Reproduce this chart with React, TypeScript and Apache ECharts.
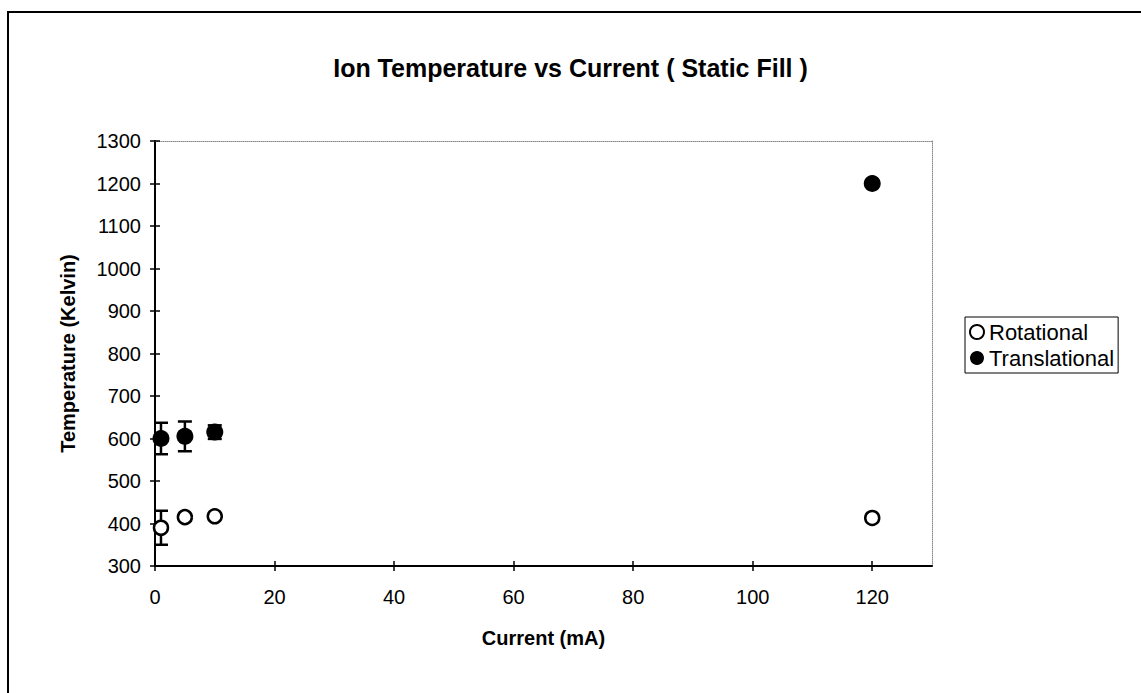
import React, { useEffect, useRef } from "react";
import * as echarts from "echarts";

const titleText = "Ion Temperature vs Current ( Static Fill )";
const xName = "Current (mA)";
const yName = "Temperature (Kelvin)";
const xTicks = [0, 20, 40, 60, 80, 100, 120];

const rotCurrent = [1, 5, 10, 120];
const rotTemp = [390, 415, 417, 413];
const rotErr = [40, 0, 0, 0];

const transCurrent = [1, 5, 10, 120];
const transTemp = [600, 605, 615, 1200];
const transErr = [37, 35, 16, 0];

const FONT = "'Liberation Sans', Arial, sans-serif";

function errorBars(name: string, xs: number[], ys: number[], es: number[]) {
  return {
    type: "custom",
    name: name + "-err",
    z: 2,
    silent: true,
    data: xs.map((x, i) => [x, ys[i], es[i]]),
    encode: { x: 0, y: 1 },
    renderItem: (params: any, api: any) => {
      const x = api.value(0);
      const y = api.value(1);
      const e = api.value(2);
      if (!e) return null;
      const top = api.coord([x, y + e]);
      const bot = api.coord([x, y - e]);
      const w = 7;
      const st = { stroke: "#000", lineWidth: 2.5 };
      return {
        type: "group",
        children: [
          { type: "line", shape: { x1: top[0], y1: top[1], x2: bot[0], y2: bot[1] }, style: st },
          { type: "line", shape: { x1: top[0] - w, y1: top[1], x2: top[0] + w, y2: top[1] }, style: st },
          { type: "line", shape: { x1: bot[0] - w, y1: bot[1], x2: bot[0] + w, y2: bot[1] }, style: st },
        ],
      };
    },
  };
}

export default function App() {
  const ref = useRef<HTMLDivElement>(null);
  useEffect(() => {
    if (!ref.current) return;
    const chart = echarts.init(ref.current, null, { renderer: "svg" });
    const axisCommonX = { type: "value", min: 0, max: 130, interval: 20, gridIndex: 0 };
    const axisCommonY = { type: "value", min: 300, max: 1300, interval: 100, gridIndex: 0 };
    chart.setOption({
      animation: false,
      backgroundColor: "#fff",
      textStyle: { fontFamily: FONT },
      title: {
        text: titleText,
        left: "center",
        top: 50,
        textStyle: { fontFamily: FONT, fontSize: 25, fontWeight: "bold", color: "#000" },
      },
      legend: {
        orient: "vertical",
        left: 965,
        top: 317,
        data: ["Rotational", "Translational"],
        borderColor: "#000",
        borderWidth: 1,
        padding: [4, 4, 4, 4],
        itemGap: 4,
        itemWidth: 14,
        itemHeight: 14,
        icon: "circle",
        textStyle: { fontFamily: FONT, fontSize: 22, color: "#000" },
      },
      grid: { left: 155, top: 141, width: 777, height: 425 },
      xAxis: [
        {
          ...axisCommonX,
          position: "bottom",
          name: xName,
          nameLocation: "middle",
          nameGap: 62,
          nameTextStyle: { fontFamily: FONT, fontSize: 20, fontWeight: "bold", color: "#000" },
          axisLine: { show: true, onZero: false, lineStyle: { color: "#000", width: 2 } },
          axisTick: { show: true, inside: false, length: 5, lineStyle: { color: "#000", width: 1.5 }, customValues: xTicks },
          axisLabel: { show: true, margin: 21, fontFamily: FONT, fontSize: 20, color: "#000", customValues: xTicks },
          splitLine: { show: false },
        },
        {
          ...axisCommonX,
          position: "bottom",
          axisLine: { show: false, onZero: false },
          axisTick: { show: true, inside: true, length: 5, lineStyle: { color: "#000", width: 1.5 }, customValues: xTicks },
          axisLabel: { show: false },
          splitLine: { show: false },
        },
        {
          ...axisCommonX,
          position: "top",
          axisLine: { show: true, onZero: false, lineStyle: { color: "#888", width: 1, type: "dotted" } },
          axisTick: { show: false },
          axisLabel: { show: false },
          splitLine: { show: false },
        },
      ],
      yAxis: [
        {
          ...axisCommonY,
          position: "left",
          name: yName,
          nameLocation: "middle",
          nameGap: 77,
          nameTextStyle: { fontFamily: FONT, fontSize: 20, fontWeight: "bold", color: "#000" },
          axisLine: { show: true, onZero: false, lineStyle: { color: "#000", width: 2 } },
          axisTick: { show: true, inside: false, length: 5, lineStyle: { color: "#000", width: 1.5 } },
          axisLabel: {
            show: true,
            margin: 14,
            fontFamily: FONT,
            fontSize: 20,
            color: "#000",
            formatter: (v: number) => String(v),
          },
          splitLine: { show: false },
        },
        {
          ...axisCommonY,
          position: "left",
          axisLine: { show: false, onZero: false },
          axisTick: { show: true, inside: true, length: 5, lineStyle: { color: "#000", width: 1.5 } },
          axisLabel: { show: false },
          splitLine: { show: false },
        },
        {
          ...axisCommonY,
          position: "right",
          axisLine: { show: true, onZero: false, lineStyle: { color: "#888", width: 1, type: "dotted" } },
          axisTick: { show: false },
          axisLabel: { show: false },
          splitLine: { show: false },
        },
      ],
      graphic: [
        {
          type: "rect",
          shape: { x: 8, y: 12, width: 1400, height: 1000 },
          style: { fill: "none", stroke: "#000", lineWidth: 2 },
          silent: true,
        },
      ],
      series: [
        errorBars("Rotational", rotCurrent, rotTemp, rotErr),
        errorBars("Translational", transCurrent, transTemp, transErr),
        {
          type: "scatter",
          name: "Rotational",
          z: 5,
          symbol: "circle",
          symbolSize: 14,
          itemStyle: { color: "#fff", borderColor: "#000", borderWidth: 2.5, opacity: 1 },
          data: rotCurrent.map((x, i) => [x, rotTemp[i]]),
        },
        {
          type: "scatter",
          name: "Translational",
          z: 5,
          symbol: "circle",
          symbolSize: 17,
          itemStyle: { color: "#000", opacity: 1 },
          data: transCurrent.map((x, i) => [x, transTemp[i]]),
        },
      ],
    });
    return () => chart.dispose();
  }, []);
  return (
    <div
      ref={ref}
      style={{ position: "fixed", left: 0, top: 0, width: 1141, height: 693, background: "#fff" }}
    />
  );
}
